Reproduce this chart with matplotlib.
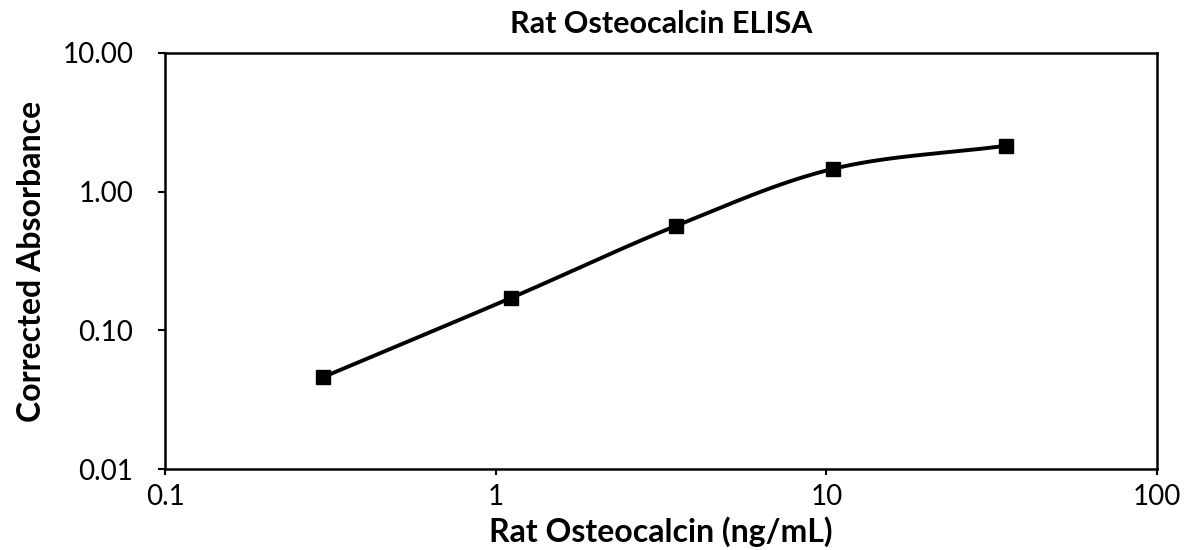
import numpy as np
import matplotlib
matplotlib.use('Agg')
import matplotlib.pyplot as plt
from matplotlib.ticker import FixedLocator, FixedFormatter, NullLocator

plt.rcParams['font.family'] = ['Lato', 'DejaVu Sans']

# 标准曲线数据
conc = [0.3, 1.11, 3.5, 10.5, 35.0]
absorb = [0.046, 0.171, 0.565, 1.46, 2.14]
x_ticks = [0.1, 1, 10, 100]
x_labels = ['0.1', '1', '10', '100']
y_ticks = [0.01, 0.1, 1, 10]
y_labels = ['0.01', '0.10', '1.00', '10.00']


# 平滑曲线 (Catmull-Rom, 对数空间)
def smooth(xs, ys, n=40):
    lx = np.log10(xs)
    ly = np.log10(ys)
    px = np.concatenate([[2 * lx[0] - lx[1]], lx, [2 * lx[-1] - lx[-2]]])
    py = np.concatenate([[2 * ly[0] - ly[1]], ly, [2 * ly[-1] - ly[-2]]])
    outx, outy = [], []
    t = np.linspace(0, 1, n)
    for i in range(1, len(px) - 2):
        for p, out in ((px, outx), (py, outy)):
            p0, p1, p2, p3 = p[i - 1], p[i], p[i + 1], p[i + 2]
            seg = 0.5 * ((2 * p1) + (-p0 + p2) * t + (2 * p0 - 5 * p1 + 4 * p2 - p3) * t ** 2
                         + (-p0 + 3 * p1 - 3 * p2 + p3) * t ** 3)
            out.extend(seg)
    return 10 ** np.array(outx), 10 ** np.array(outy)


fig = plt.figure(figsize=(11.89, 5.5), dpi=100)
ax = fig.add_axes([0.139, 0.147, 0.834, 0.757])
sx, sy = smooth(conc, absorb)
ax.plot(sx, sy, color='black', linewidth=2.8, solid_capstyle='round')
ax.plot(conc, absorb, 's', color='black', markersize=9.5)
ax.set_xscale('log')
ax.set_yscale('log')
ax.set_xlim(0.1, 100)
ax.set_ylim(0.01, 10)
ax.xaxis.set_major_locator(FixedLocator(x_ticks))
ax.xaxis.set_major_formatter(FixedFormatter(x_labels))
ax.yaxis.set_major_locator(FixedLocator(y_ticks))
ax.yaxis.set_major_formatter(FixedFormatter(y_labels))
ax.xaxis.set_minor_locator(NullLocator())
ax.yaxis.set_minor_locator(NullLocator())
for s in ax.spines.values():
    s.set_linewidth(1.8)
ax.tick_params(axis='x', which='major', length=4, width=1.5, labelsize=20, pad=7)
ax.tick_params(axis='y', which='major', length=5, width=1.5, labelsize=20, pad=18)
ax.set_title('Rat Osteocalcin ELISA', fontsize=22, fontweight='bold', pad=14)
ax.set_xlabel('Rat Osteocalcin (ng/mL)', fontsize=23, fontweight='bold', labelpad=4)
ax.set_ylabel('Corrected Absorbance', fontsize=23, fontweight='bold', labelpad=12)
fig.savefig('out.png', dpi=100)
